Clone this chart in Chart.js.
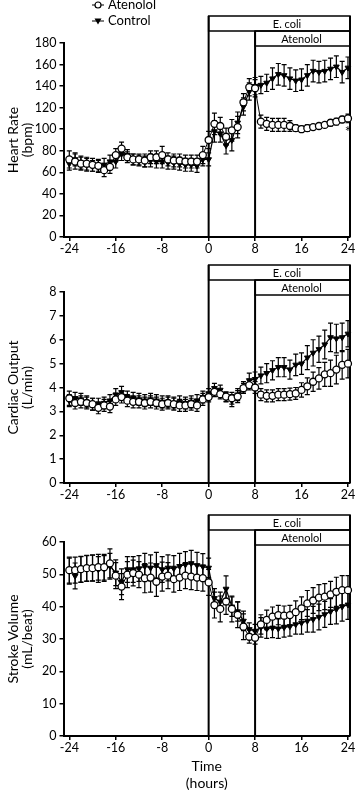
<!DOCTYPE html>
<html lang="en">
<head>
<meta charset="UTF-8" />
<title>Heart rate, cardiac output and stroke volume</title>
<script src="https://cdn.jsdelivr.net/npm/chart.js"></script>
<style>
  body { margin: 0; background: #fff; }
  #wrap { position: relative; width: 356px; height: 792px; }
  canvas { position: absolute; left: 0; }
</style>
</head>
<body>
<div id="wrap">
  <canvas id="hr" width="356" height="262" style="top:0px"></canvas>
  <canvas id="co" width="356" height="248" style="top:262px"></canvas>
  <canvas id="sv" width="356" height="282" style="top:510px"></canvas>
</div>
<script>
// time (hours relative to E. coli start)
const hours = [-24,-23,-22,-21,-20,-19,-18,-17,-16,-15,-14,-13,-12,-11,-10,-9,-8,-7,-6,-5,-4,-3,-2,-1,
  0,1,2,3,4,5,6,7,8,9,10,11,12,13,14,15,16,17,18,19,20,21,22,23,24];
const xTicks = [-24,-16,-8,0,8,16,24];
const seriesNames = ['Atenolol', 'Control'];
const eColiStart = 0;
const atenololStart = 8;

// Heart rate (bpm)
const hrAtenolol = [72,70,68,68,67,66,62,65,76,82,74,72,72,71,74,74,76,72,71,71,70,70,70,76,
  90,105,103,93,99,102,125,139,138,
  107,105,104,104,104,103,101,100,101,102,103,104,106,107,109,110];
const hrAtenololErr = [8,7,6,6,6,6,6,6,6,6,5,5,5,6,6,6,8,6,6,6,6,6,6,8,
  8,10,8,8,10,10,8,8,8,
  6,6,6,6,6,5,3,3,3,2,2,2,3,3,3,4];
const hrControl = [68,72,69,67,66,66,67,70,70,77,76,72,71,70,71,70,70,69,69,68,67,67,66,72,
  72,98,96,85,90,106,121,135,140,
  141,143,147,151,150,147,145,146,150,154,153,154,156,158,153,157];
const hrControlErr = [6,6,6,6,5,5,6,6,6,6,5,5,5,5,6,6,6,6,6,6,6,6,6,6,
  6,10,8,8,10,10,8,8,8,
  8,8,10,10,10,10,10,10,10,10,10,10,10,10,10,10];
const hrTicks = [0,20,40,60,80,100,120,140,160,180];

// Cardiac output (L/min)
const coAtenolol = [3.55,3.35,3.4,3.35,3.3,3.15,3.25,3.2,3.5,3.6,3.45,3.4,3.4,3.35,3.4,3.35,3.3,3.35,3.3,3.25,3.25,3.3,3.25,3.5,
  3.6,3.82,3.72,3.62,3.55,3.62,3.97,4.1,4.0,
  3.7,3.65,3.65,3.7,3.7,3.72,3.75,3.9,4.05,4.24,4.38,4.55,4.6,4.75,4.95,5.0];
const coAtenololErr = [0.3,0.25,0.25,0.25,0.25,0.25,0.25,0.25,0.25,0.25,0.25,0.25,0.25,0.25,0.25,0.25,0.25,0.25,0.25,0.25,0.25,0.25,0.25,0.25,
  0.2,0.2,0.2,0.2,0.25,0.25,0.2,0.2,0.25,
  0.25,0.25,0.25,0.25,0.25,0.25,0.25,0.3,0.35,0.4,0.45,0.5,0.55,0.6,0.6,0.6];
const coControl = [3.45,3.55,3.5,3.4,3.3,3.3,3.35,3.45,3.7,3.8,3.6,3.55,3.5,3.45,3.5,3.45,3.4,3.4,3.35,3.4,3.35,3.4,3.45,3.6,
  3.75,3.97,3.9,3.6,3.45,3.7,4.0,4.3,4.35,
  4.5,4.6,4.72,4.85,4.85,4.75,4.95,5.0,5.25,5.45,5.6,5.8,6.1,6.05,6.1,6.25];
const coControlErr = [0.25,0.25,0.25,0.25,0.25,0.25,0.25,0.25,0.25,0.25,0.25,0.25,0.25,0.25,0.25,0.25,0.25,0.25,0.25,0.25,0.25,0.25,0.25,0.25,
  0.2,0.2,0.2,0.2,0.25,0.25,0.25,0.3,0.3,
  0.35,0.4,0.4,0.4,0.4,0.4,0.45,0.45,0.5,0.55,0.55,0.6,0.6,0.6,0.6,0.55];
const coTicks = [0,1,2,3,4,5,6,7,8];

// Stroke volume (mL/beat)
const svAtenolol = [51.3,51.3,51.6,51.9,51.9,52.2,52.2,53.4,49.6,46.2,49.9,50.4,49.9,48.8,49,47.7,49.3,49.6,48.5,49,49.6,49.3,49,48.8,
  47.5,40.5,39.3,41.6,39.3,37.5,33.8,30.7,30.4,
  34.5,35.9,36.9,37.4,37.2,37.4,38.3,39.5,41,41.9,42.8,43.1,43.8,44.6,45.1,45.1];
const svAtenololErr = [4,4,4,4,4,4,4,4.5,4,4,4,4,4,4.5,4.5,4.5,4.5,4,4,4,4,4,4,4,
  4,4,4,4,4,4,4,2,2,
  3,3,3,3,3,3,3.5,3.5,4,4,4,4,4,4.5,4.5,4.5];
const svControl = [51,49.5,51.5,51.8,52,51.5,51.8,52.5,50.5,47.7,51.5,51.5,51.8,52.5,52,52.8,51.5,52,51.8,52.5,53,53.4,52.8,52.4,
  52,42.6,41.5,45.5,40,38.5,35.6,33,32.5,
  33.6,33.2,33.4,33.2,33.6,33.9,34.5,35,35.6,36.1,36.8,37.6,38.5,39.2,40,40.6];
const svControlErr = [4,4,4,4,4,4,4,4,4,4,4,4,4,4,4,4,4,4,4,4,4,4,4,4,
  3,3,3,4,3,3,3,2,2,
  3,3,3,3,3,3,3,3.5,3.5,4,4,4,4,4.5,4.5,4.5];
const svTicks = [0,10,20,30,40,50,60];

Chart.defaults.font.family = 'Lato, "Open Sans", sans-serif';
Chart.defaults.color = '#000';

const pts = vals => hours.map((h, i) => ({ x: h, y: vals[i] }));

// SEM whiskers under the markers
const errorBars = {
  id: 'errorBars',
  beforeDatasetsDraw(chart) {
    const { ctx, scales: { x, y } } = chart;
    ctx.save();
    ctx.strokeStyle = '#000';
    ctx.lineWidth = 1.2;
    chart.data.datasets.forEach(ds => {
      ds.data.forEach((p, i) => {
        const e = ds.errors[i];
        const px = x.getPixelForValue(p.x);
        const top = y.getPixelForValue(p.y + e);
        const bot = y.getPixelForValue(p.y - e);
        ctx.beginPath();
        ctx.moveTo(px, top); ctx.lineTo(px, bot);
        ctx.moveTo(px - 2.5, top); ctx.lineTo(px + 2.5, top);
        ctx.moveTo(px - 2.5, bot); ctx.lineTo(px + 2.5, bot);
        ctx.stroke();
      });
    });
    ctx.restore();
  }
};

// E. coli / Atenolol bars and the period lines
const phases = {
  id: 'phases',
  beforeDatasetsDraw(chart) {
    const { ctx, chartArea: a, scales: { x } } = chart;
    const x0 = x.getPixelForValue(eColiStart);
    const x8 = x.getPixelForValue(atenololStart);
    const xr = a.right;
    const t1 = a.top - 27, t2 = t1 + 15;
    ctx.save();
    ctx.strokeStyle = '#000';
    ctx.lineWidth = 1.5;
    ctx.strokeRect(x0, t1, xr - x0, 15);
    ctx.strokeRect(x8, t2, xr - x8, 15);
    ctx.lineWidth = 2;
    ctx.beginPath();
    ctx.moveTo(x0, t1); ctx.lineTo(x0, a.bottom);
    ctx.moveTo(x8, t2); ctx.lineTo(x8, a.bottom);
    ctx.moveTo(xr, t1); ctx.lineTo(xr, a.bottom);
    ctx.stroke();
    ctx.fillStyle = '#000';
    ctx.font = '11px Lato';
    ctx.textAlign = 'center';
    ctx.textBaseline = 'middle';
    ctx.fillText('E. coli', x.getPixelForValue(13.5), t1 + 8);
    ctx.fillText('Atenolol', x.getPixelForValue(16), t2 + 8);
    ctx.restore();
  }
};

// legend in the top left of the first panel
const seriesKey = {
  id: 'seriesKey',
  afterDraw(chart) {
    const ctx = chart.ctx;
    ctx.save();
    ctx.strokeStyle = '#000';
    ctx.fillStyle = '#000';
    ctx.lineWidth = 1.2;
    ctx.beginPath();
    ctx.moveTo(92, 5); ctx.lineTo(104, 5);
    ctx.moveTo(92, 21); ctx.lineTo(104, 21);
    ctx.stroke();
    ctx.beginPath();
    ctx.arc(98, 5, 3, 0, Math.PI * 2);
    ctx.fillStyle = '#fff';
    ctx.fill();
    ctx.stroke();
    ctx.fillStyle = '#000';
    ctx.beginPath();
    ctx.moveTo(94.5, 18.5); ctx.lineTo(101.5, 18.5); ctx.lineTo(98, 24.5);
    ctx.closePath();
    ctx.fill();
    ctx.font = '13px Lato';
    ctx.textBaseline = 'middle';
    ctx.fillText(seriesNames[0], 108, 5);
    ctx.fillText(seriesNames[1], 108, 21);
    ctx.restore();
  }
};

// significance mark at the end of the heart rate trace
const star = {
  id: 'star',
  afterDatasetsDraw(chart) {
    const { ctx, scales: { x, y } } = chart;
    ctx.save();
    ctx.fillStyle = '#000';
    ctx.font = '15px Lato';
    ctx.textAlign = 'center';
    ctx.textBaseline = 'middle';
    ctx.fillText('*', x.getPixelForValue(24), y.getPixelForValue(97));
    ctx.restore();
  }
};

const axisGrid = { drawOnChartArea: false, tickLength: 4, color: '#000', lineWidth: 1.5 };
const axisBorder = { color: '#000', width: 2 };

function panel(id, o) {
  return new Chart(document.getElementById(id), {
    type: 'line',
    data: {
      datasets: [
        {
          label: seriesNames[0], data: pts(o.aten), errors: o.atenErr,
          borderColor: '#000', borderWidth: 1, pointStyle: 'circle', pointRadius: 3.5,
          pointBackgroundColor: '#fff', pointBorderColor: '#000', pointBorderWidth: 1.3, clip: false
        },
        {
          label: seriesNames[1], data: pts(o.ctrl), errors: o.ctrlErr,
          borderColor: '#000', borderWidth: 1.2, pointStyle: 'triangle', pointRotation: 180, pointRadius: 3.3,
          pointBackgroundColor: '#000', pointBorderColor: '#000', pointBorderWidth: 1, clip: false
        }
      ]
    },
    options: {
      responsive: false,
      animation: false,
      devicePixelRatio: 1,
      layout: { padding: { top: o.top, right: 6, left: 0, bottom: 0 } },
      plugins: { legend: { display: false }, tooltip: { enabled: false } },
      scales: {
        x: {
          type: 'linear', min: -25, max: 24.35,
          afterBuildTicks(s) { s.ticks = xTicks.map(v => ({ value: v })); },
          ticks: { padding: 0, font: { size: 12.5 }, maxRotation: 0, autoSkip: false },
          grid: axisGrid, border: axisBorder,
          title: o.xTitle
            ? { display: true, text: o.xTitle, font: { size: 14, lineHeight: 1.2 }, padding: { top: 0, bottom: 0 } }
            : { display: false },
          afterFit(s) { s.height = o.xHeight; }
        },
        y: {
          min: 0, max: o.yTicks[o.yTicks.length - 1],
          afterBuildTicks(s) { s.ticks = o.yTicks.map(v => ({ value: v })); },
          ticks: { padding: 3, font: { size: 12.5 } },
          grid: axisGrid, border: axisBorder,
          title: { display: true, text: o.yTitle, font: { size: 14, lineHeight: 1 }, padding: { top: 6, bottom: 0 } },
          afterFit(s) { s.width = 63.5; }
        }
      }
    },
    plugins: [phases, errorBars].concat(o.extra || [])
  });
}

panel('hr', {
  aten: hrAtenolol, atenErr: hrAtenololErr, ctrl: hrControl, ctrlErr: hrControlErr,
  yTicks: hrTicks, yTitle: ['Heart Rate', '(bpm)'], top: 43, xHeight: 25, extra: [seriesKey, star]
});
panel('co', {
  aten: coAtenolol, atenErr: coAtenololErr, ctrl: coControl, ctrlErr: coControlErr,
  yTicks: coTicks, yTitle: ['Cardiac Output', '(L/min)'], top: 30, xHeight: 27
});
panel('sv', {
  aten: svAtenolol, atenErr: svAtenololErr, ctrl: svControl, ctrlErr: svControlErr,
  yTicks: svTicks, yTitle: ['Stroke Volume', '(mL/beat)'], top: 32, xHeight: 56, xTitle: ['Time', '(hours)']
});
</script>
</body>
</html>
